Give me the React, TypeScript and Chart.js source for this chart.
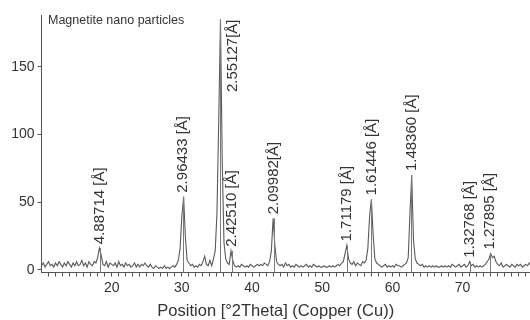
import React, { useEffect, useRef } from 'react';
import { Chart, registerables } from 'chart.js';

Chart.register(...registerables);

const TITLE = 'Magnetite nano particles';
const X_AXIS_TITLE = 'Position [°2Theta] (Copper (Cu))';

// XRD scan: start angle, step (°2θ) and counts
const X_START = 10;
const X_STEP = 0.25;
const intensity = [
  3, 5, 2, 4, // 10
  6, 3, 4, 2, // 11
  5, 3, 6, 4, // 12
  2, 5, 3, 6, // 13
  4, 2, 5, 3, // 14
  6, 3, 4, 7, // 15
  3, 5, 2, 6, // 16
  4, 3, 6, 5, // 17
  9, 16, 11, 4, // 18
  3, 6, 2, 5, // 19
  4, 3, 5, 2, // 20
  6, 3, 4, 2, // 21
  5, 3, 4, 2, // 22
  3, 5, 2, 4, // 23
  2, 4, 3, 5, // 24
  3, 2, 4, 2, // 25
  1, 3, 2, 1, // 26
  2, 1, 3, 1, // 27
  2, 1, 2, 3, // 28
  2, 4, 7, 16, // 29
  40, 54, 24, 7, // 30
  5, 3, 4, 2, // 31
  3, 2, 4, 3, // 32
  6, 10, 4, 3, // 33
  7, 3, 8, 14, // 34
  42, 110, 185, 80, // 35
  20, 8, 5, 4, // 36
  14, 7, 3, 2, // 37
  3, 2, 4, 3, // 38
  2, 3, 2, 4, // 39
  3, 2, 3, 4, // 40
  3, 4, 3, 5, // 41
  4, 3, 6, 14, // 42
  38, 18, 6, 4, // 43
  3, 4, 2, 5, // 44
  3, 4, 2, 3, // 45
  2, 4, 3, 2, // 46
  3, 2, 3, 4, // 47
  2, 3, 2, 4, // 48
  3, 2, 3, 2, // 49
  2, 3, 2, 2, // 50
  3, 2, 3, 2, // 51
  3, 4, 3, 5, // 52
  6, 12, 18, 8, // 53
  5, 4, 6, 3, // 54
  5, 4, 3, 6, // 55
  5, 7, 16, 40, // 56
  52, 26, 8, 5, // 57
  4, 3, 2, 3, // 58
  4, 2, 3, 2, // 59
  3, 2, 4, 3, // 60
  3, 2, 3, 4, // 61
  5, 9, 42, 70, // 62
  22, 8, 5, 4, // 63
  3, 4, 2, 3, // 64
  2, 3, 2, 3, // 65
  2, 3, 2, 2, // 66
  3, 2, 3, 2, // 67
  3, 2, 4, 3, // 68
  2, 3, 4, 2, // 69
  3, 4, 2, 3, // 70
  6, 3, 4, 2, // 71
  3, 2, 3, 2, // 72
  3, 4, 6, 8, // 73
  12, 9, 10, 6, // 74
  4, 3, 5, 2, // 75
  3, 4, 3, 2, // 76
  4, 3, 2, 4, // 77
  3, 4, 2, 3, // 78
  4, 3, 5, 3, // 79
];

// identified peaks: position (°2θ), marker height (counts), d-spacing label
const peakPositions = [18.3, 30.2, 35.5, 37.1, 43.1, 53.5, 57.0, 62.7, 71.0, 73.9];
const peakHeights = [16, 54, 185, 14, 38, 18, 52, 70, 6, 12];
const peakLabels = [
  '4.88714 [Å]',
  '2.96433 [Å]',
  '2.55127[Å]',
  '2.42510 [Å]',
  '2.09982[Å]',
  '1.71179 [Å]',
  '1.61446 [Å]',
  '1.48360 [Å]',
  '1.32768 [Å]',
  '1.27895 [Å]',
];

const xTickLabels = [20, 30, 40, 50, 60, 70];
const yTickValues = [0, 50, 100, 150];
const X_MIN = 10;
const X_MAX = 79.6;
const Y_MIN = -2;
const Y_MAX = 188.3;

const FONT = '"Liberation Sans", Arial, Helvetica, sans-serif';
const TEXT = '#333333';
const AXIS = '#555555';

const annotations = {
  id: 'xrdAnnotations',
  afterDatasetsDraw(chart: any) {
    const { ctx, chartArea, scales } = chart;
    const x = scales.x;
    const y = scales.y;
    ctx.save();
    // peak marker sticks
    ctx.strokeStyle = '#7a7a7a';
    ctx.lineWidth = 1;
    peakPositions.forEach((p, i) => {
      const px = Math.round(x.getPixelForValue(p)) + 0.5;
      ctx.beginPath();
      ctx.moveTo(px, chartArea.bottom);
      ctx.lineTo(px, y.getPixelForValue(peakHeights[i]));
      ctx.stroke();
    });
    // d-spacing labels
    ctx.fillStyle = TEXT;
    ctx.font = `15px ${FONT}`;
    ctx.textBaseline = 'middle';
    const gap = 4;
    peakPositions.forEach((p, i) => {
      const px = x.getPixelForValue(p);
      const top = y.getPixelForValue(peakHeights[i]);
      const w = ctx.measureText(peakLabels[i]).width;
      ctx.save();
      if (top - gap - w < chartArea.top) {
        ctx.translate(px + 12, top);
        ctx.rotate(-Math.PI / 2);
        ctx.textAlign = 'right';
      } else {
        ctx.translate(px, top - gap);
        ctx.rotate(-Math.PI / 2);
        ctx.textAlign = 'left';
      }
      ctx.fillText(peakLabels[i], 0, 0);
      ctx.restore();
    });
    // sample title
    ctx.font = `12.5px ${FONT}`;
    ctx.textAlign = 'left';
    ctx.textBaseline = 'alphabetic';
    ctx.fillText(TITLE, chartArea.left + 6.5, chartArea.top + 9);
    // x axis title
    ctx.font = `16.5px ${FONT}`;
    ctx.textAlign = 'center';
    ctx.textBaseline = 'middle';
    ctx.fillText(X_AXIS_TITLE, (chartArea.left + chartArea.right) / 2 - 10, x.bottom - 9);
    ctx.restore();
  },
};

export default function App() {
  const canvasRef = useRef<HTMLCanvasElement | null>(null);

  useEffect(() => {
    document.body.style.margin = '0';
    const canvas = canvasRef.current;
    if (!canvas) return;
    const points = intensity.map((v, i) => ({ x: X_START + i * X_STEP, y: v }));
    const chart = new Chart(canvas, {
      type: 'line',
      data: {
        datasets: [
          {
            data: points,
            borderColor: '#5a5a5a',
            borderWidth: 1.1,
            pointRadius: 0,
            tension: 0,
            fill: false,
          },
        ],
      },
      options: {
        animation: false,
        responsive: false,
        maintainAspectRatio: false,
        parsing: true,
        layout: { padding: { top: 15, right: 0, bottom: 0, left: 0 } },
        plugins: {
          legend: { display: false },
          tooltip: { enabled: false },
          title: { display: false },
        },
        scales: {
          x: {
            type: 'linear',
            min: X_MIN,
            max: X_MAX,
            grid: {
              display: true,
              drawOnChartArea: false,
              drawTicks: true,
              tickLength: 4,
              color: AXIS,
            },
            border: { display: true, color: AXIS, width: 1 },
            afterBuildTicks: (scale: any) => {
              const t: { value: number }[] = [];
              for (let v = Math.ceil(X_MIN + 1); v <= Math.floor(X_MAX); v++) t.push({ value: v });
              scale.ticks = t;
            },
            afterFit: (scale: any) => {
              scale.height = 47.5;
            },
            ticks: {
              autoSkip: false,
              maxRotation: 0,
              minRotation: 0,
              padding: 3,
              color: TEXT,
              font: { family: FONT, size: 14 },
              callback: (v: any) => (xTickLabels.includes(Number(v)) ? String(v) : ''),
            },
          },
          y: {
            type: 'linear',
            min: Y_MIN,
            max: Y_MAX,
            grid: {
              display: true,
              drawOnChartArea: false,
              drawTicks: true,
              tickLength: 4,
              color: AXIS,
            },
            border: { display: true, color: AXIS, width: 1 },
            afterBuildTicks: (scale: any) => {
              scale.ticks = yTickValues.map((v) => ({ value: v }));
            },
            afterFit: (scale: any) => {
              scale.width = 41.5;
            },
            ticks: {
              padding: 3,
              color: TEXT,
              font: { family: FONT, size: 14 },
              callback: (v: any) => String(v),
            },
          },
        },
      },
      plugins: [annotations],
    });
    return () => chart.destroy();
  }, []);

  return (
    <div style={{ width: 530, height: 320 }}>
      <canvas ref={canvasRef} width={530} height={320} style={{ display: 'block' }} />
    </div>
  );
}
